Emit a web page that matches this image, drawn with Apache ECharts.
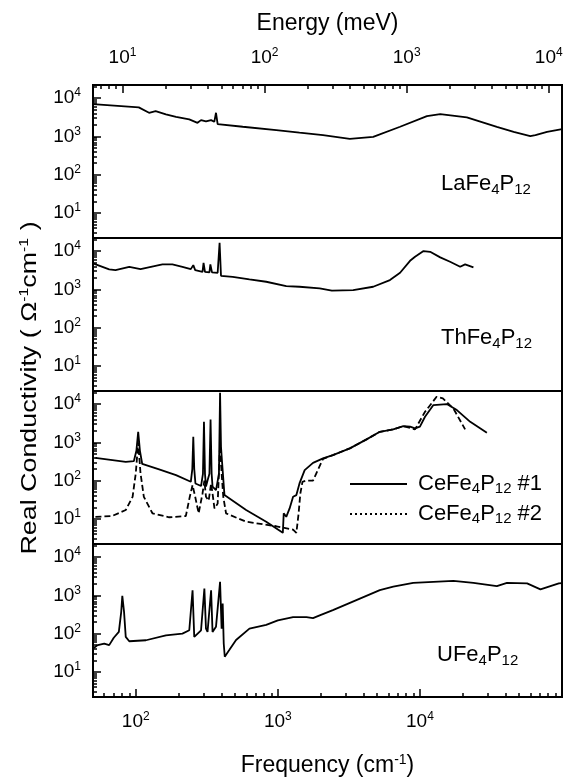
<!DOCTYPE html>
<html>
<head>
<meta charset="utf-8">
<script src="https://cdn.jsdelivr.net/npm/echarts@6/dist/echarts.min.js"></script>
<style>
  html, body { margin: 0; padding: 0; background: #fff; }
  #chart { width: 582px; height: 780px; }
</style>
</head>
<body>
<div id="chart"></div>
<script>
// frequency (cm^-1) and real conductivity (1/(ohm cm))
const laFreq = [50, 105, 124, 138, 163, 192, 238, 272, 288, 312, 339, 357, 367, 377, 566, 975, 1420, 2080, 3210, 4690, 7250, 11200, 13900, 21400, 34800, 45700, 59800, 65000, 78500, 100000];
const laSigma = [6970, 5710, 4130, 4570, 3750, 3250, 2770, 2260, 2660, 2460, 2660, 2400, 4130, 2090, 1780, 1460, 1250, 1080, 863, 973, 1780, 3380, 3820, 3130, 1780, 1315, 1020, 1080, 1315, 1550];

const thFreq = [50, 65, 72, 90, 108, 154, 181, 213, 244, 254, 262, 295, 300, 307, 330, 335, 344, 377, 389, 398, 481, 631, 828, 1146, 1420, 1970, 2400, 3390, 4690, 6150, 7250, 8520, 9240, 10600, 11800, 13900, 16300, 19200, 20800, 23800];
const thSigma = [4770, 3330, 3190, 3890, 3380, 4490, 4490, 3890, 3380, 4300, 3190, 2880, 4950, 2880, 2770, 4490, 2770, 2710, 16500, 2260, 2130, 1820, 1580, 1220, 1170, 1060, 930, 955, 1170, 1750, 2710, 5570, 7100, 10000, 9600, 6840, 5250, 3890, 4490, 3740];

const ce1Freq = [52, 85, 97, 101, 104, 107, 111, 146, 192, 244, 250, 254, 258, 263, 288, 297, 302, 307, 312, 320, 330, 336, 342, 347, 367, 385, 392, 398, 405, 421, 598, 828, 1084, 1100, 1146, 1210, 1280, 1350, 1420, 1545, 1768, 2080, 2440, 3210, 4210, 5220, 6490, 7640, 8520, 9240, 10000, 10860, 12440, 15450, 18200, 22600, 29600];
const ce1Sigma = [395, 310, 324, 600, 1890, 600, 272, 196, 139, 93, 200, 1400, 200, 84, 72, 150, 3440, 150, 70, 100, 150, 3980, 150, 70, 56.5, 150, 19700, 765, 300, 41.8, 17, 8.4, 4.3, 13.9, 11.3, 18.7, 37.7, 41.8, 84.5, 188, 290, 380, 465, 695, 1195, 1890, 2180, 2660, 2580, 2310, 2580, 4670, 9420, 10000, 6970, 3440, 1780];

const ce2Freq = [52, 68, 85, 95, 100, 104, 108, 114, 131, 172, 225, 240, 251, 262, 277, 295, 304, 312, 326, 339, 347, 358, 377, 392, 402, 413, 432, 598, 975, 1280, 1350, 1400, 1440, 1490, 1590, 1768, 1920, 2080, 2440, 3210, 4210, 5220, 6490, 7640, 9240, 10860, 13100, 14500, 17200, 20800];
const ce2Sigma = [11.3, 11.8, 17, 37.7, 155, 1000, 155, 37.7, 14, 11, 11.8, 37.7, 76, 37.7, 14, 46, 100, 37.7, 30, 84.5, 46, 18.7, 25, 848, 155, 37.7, 13.9, 8.4, 6.4, 5.2, 4.3, 13.9, 46, 93, 100, 100, 196, 370, 465, 695, 1195, 1890, 2180, 2660, 2180, 6300, 15500, 14060, 7710, 2180];

const uFreq = [50, 54, 60, 65, 70, 76, 79, 80.4, 82.7, 85, 90, 118, 163, 213, 238, 251, 258, 288, 304, 312, 320, 339, 347, 367, 392, 402, 409, 416, 423, 455, 508, 631, 828, 1000, 1280, 1590, 1768, 1970, 2440, 3570, 5220, 6490, 8970, 12440, 17200, 23800, 34800, 41000, 56800, 70500, 95000, 100000];
const uSigma = [41, 50, 55, 50, 78, 111, 371, 973, 371, 82, 63, 67, 90, 100, 122, 1360, 82, 122, 1500, 135, 111, 1360, 111, 150, 2260, 135, 615, 55, 24.8, 37, 68, 135, 170, 221, 270, 270, 255, 300, 411, 752, 1370, 1680, 2130, 2260, 2400, 2130, 1750, 2130, 2050, 1430, 2050, 2100];

const FREQ_MIN = 50, FREQ_MAX = 100000;
const SIG_MIN = 2.2, SIG_MAX = 22000;
const MEV_PER_CM = 0.123984;

const FONT = 'Liberation Sans, Arial, Helvetica, sans-serif';
const PANEL_TOP = [85, 238, 391, 544];
const PANEL_H = 153;
const LEFT = 93, RIGHT = 20;

function zip(xs, ys) { return xs.map((x, i) => [x, ys[i]]); }

// log-spaced minor tick positions (2..9 x 10^n), in log10 units for a linear helper axis
function minorLog(lo, hi) {
    const out = [];
    for (let e = Math.floor(Math.log10(lo)); e <= Math.ceil(Math.log10(hi)); e++) {
        for (let k = 2; k <= 9; k++) {
            const v = k * Math.pow(10, e);
            if (v > lo && v < hi) out.push(Math.log10(v));
        }
    }
    return out;
}

function powLabel(v) {
    const e = Math.round(Math.log10(v));
    if (Math.abs(v - Math.pow(10, e)) > 1e-6 * v) return '';
    return '{b|10}{p|' + e + '}';
}

const labelRich = {
    b: { fontSize: 19, fontFamily: FONT, color: '#000', lineHeight: 22 },
    p: { fontSize: 12, fontFamily: FONT, color: '#000', lineHeight: 12, verticalAlign: 'top' }
};
const tickLine = { color: '#000', width: 1.5 };

const grids = [];
PANEL_TOP.forEach(t => grids.push({
    left: LEFT, right: RIGHT, top: t, height: PANEL_H,
    show: true, borderColor: '#000', borderWidth: 2, backgroundColor: 'transparent'
}));
// overlay grids carry the minor ticks
PANEL_TOP.forEach(t => grids.push({ left: LEFT, right: RIGHT, top: t, height: PANEL_H, show: false }));

const xAxes = [];
for (let i = 0; i < 4; i++) {
    const last = i === 3;
    xAxes.push({
        type: 'log', gridIndex: i, position: 'bottom', min: FREQ_MIN, max: FREQ_MAX,
        axisLine: { show: false }, splitLine: { show: false },
        axisTick: { show: last, inside: true, length: 8, lineStyle: tickLine },
        axisLabel: {
            show: last, margin: 14, formatter: powLabel, rich: labelRich,
            showMinLabel: false, showMaxLabel: false
        },
        name: last ? '{t|Frequency (cm}{p|-1}{t|)}' : '',
        nameLocation: 'middle', nameGap: 56,
        nameTextStyle: {
            rich: {
                t: { fontSize: 23, fontFamily: FONT, color: '#000', lineHeight: 26 },
                p: { fontSize: 14, fontFamily: FONT, color: '#000', lineHeight: 14, verticalAlign: 'top' }
            }
        }
    });
}
// energy axis on top of first panel
xAxes.push({
    type: 'log', gridIndex: 0, position: 'top',
    min: FREQ_MIN * MEV_PER_CM, max: FREQ_MAX * MEV_PER_CM,
    axisLine: { show: false }, splitLine: { show: false },
    axisTick: { show: true, inside: true, length: 8, lineStyle: tickLine },
    axisLabel: { margin: 16, formatter: powLabel, rich: labelRich, showMinLabel: false, showMaxLabel: false },
    name: 'Energy (meV)', nameLocation: 'middle', nameGap: 50,
    nameTextStyle: { fontSize: 23, fontFamily: FONT, color: '#000' }
});
// helper linear axes (log10 units) for minor ticks
function minorAxis(gridIndex, position, lo, hi, show) {
    return {
        type: 'value', gridIndex: gridIndex, position: position,
        min: Math.log10(lo), max: Math.log10(hi), show: show !== false,
        axisLine: { show: false }, splitLine: { show: false }, axisLabel: { show: false },
        axisTick: { show: true, inside: true, length: 4, lineStyle: tickLine, customValues: minorLog(lo, hi) }
    };
}
xAxes.push(minorAxis(4, 'top', FREQ_MIN * MEV_PER_CM, FREQ_MAX * MEV_PER_CM));
xAxes.push(minorAxis(5, 'bottom', FREQ_MIN, FREQ_MAX, false));
xAxes.push(minorAxis(6, 'bottom', FREQ_MIN, FREQ_MAX, false));
xAxes.push(minorAxis(7, 'bottom', FREQ_MIN, FREQ_MAX));

const yAxes = [];
for (let i = 0; i < 4; i++) {
    yAxes.push({
        type: 'log', gridIndex: i, min: SIG_MIN, max: SIG_MAX,
        axisLine: { show: false }, splitLine: { show: false },
        axisTick: { show: true, inside: true, length: 8, lineStyle: tickLine },
        axisLabel: { margin: 12, formatter: powLabel, rich: labelRich, showMinLabel: false, showMaxLabel: false }
    });
}
for (let i = 0; i < 4; i++) yAxes.push(minorAxis(4 + i, 'left', SIG_MIN, SIG_MAX));

function lineSeries(name, idx, xs, ys, dash) {
    return {
        type: 'line', name: name, xAxisIndex: idx, yAxisIndex: idx,
        data: zip(xs, ys), symbol: 'none', showSymbol: false, silent: true,
        lineStyle: { color: '#000', width: 1.8, type: dash || 'solid' },
        itemStyle: { color: '#000' }
    };
}

const subRich = {
    t: { fontSize: 22, fontFamily: FONT, fill: '#000', lineHeight: 26 },
    s: { fontSize: 15, fontFamily: FONT, fill: '#000', lineHeight: 15, verticalAlign: 'bottom' }
};
function panelLabel(el, x, y) {
    return {
        type: 'text', x: x, y: y, silent: true,
        style: { text: '{t|' + el + 'Fe}{s|4}{t|P}{s|12}', rich: subRich, verticalAlign: 'middle', align: 'left' }
    };
}

const chart = echarts.init(document.getElementById('chart'), null, { renderer: 'canvas' });
chart.setOption({
    animation: false,
    backgroundColor: '#fff',
    grid: grids,
    xAxis: xAxes,
    yAxis: yAxes,
    legend: {
        orient: 'vertical', left: 349, top: 473, padding: 0,
        itemWidth: 57, itemHeight: 16, itemGap: 7,
        selectedMode: false,
        itemStyle: { opacity: 0 },
        data: [
            { name: 'CeFe4P12 #1' },
            { name: 'CeFe4P12 #2', lineStyle: { type: [2, 3] } }
        ],
        formatter: n => '{t|CeFe}{s|4}{t|P}{s|12}{t| #' + n.slice(-1) + '}',
        textStyle: {
            color: '#000', padding: [0, 0, 0, 6],
            rich: {
                t: { fontSize: 22, fontFamily: FONT, color: '#000', lineHeight: 24 },
                s: { fontSize: 15, fontFamily: FONT, color: '#000', lineHeight: 15, verticalAlign: 'bottom' }
            }
        }
    },
    graphic: [
        {
            type: 'text', x: 30, y: 388, rotation: Math.PI / 2, scaleX: 1.22, silent: true,
            style: {
                text: '{t|Real Conductivity ( \u03A9}{p|-1}{t|cm}{p|-1}{t| )}',
                align: 'center', verticalAlign: 'middle',
                rich: {
                    t: { fontSize: 22, fontFamily: FONT, fill: '#000', lineHeight: 24 },
                    p: { fontSize: 13, fontFamily: FONT, fill: '#000', lineHeight: 13, verticalAlign: 'top' }
                }
            }
        },
        panelLabel('La', 441, 184),
        panelLabel('Th', 441, 338),
        panelLabel('U', 437, 655)
    ],
    series: [
        lineSeries('LaFe4P12', 0, laFreq, laSigma),
        lineSeries('ThFe4P12', 1, thFreq, thSigma),
        lineSeries('CeFe4P12 #1', 2, ce1Freq, ce1Sigma),
        lineSeries('CeFe4P12 #2', 2, ce2Freq, ce2Sigma, [6, 3]),
        lineSeries('UFe4P12', 3, uFreq, uSigma)
    ]
});
</script>
</body>
</html>
